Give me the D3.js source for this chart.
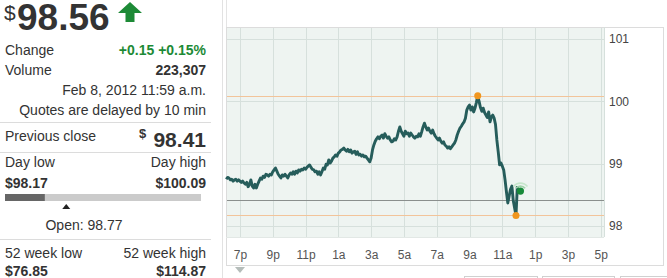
<!DOCTYPE html>
<html>
<head>
<meta charset="utf-8">
<script src="https://cdn.jsdelivr.net/npm/d3@7"></script>
<style>
  body { margin: 0; background: #fff; }
  svg { display: block; font-family: "Liberation Sans", Arial, sans-serif; }
</style>
</head>
<body>
<div id="content"></div>
<script>
// Quote summary
var lastPrice = 98.56;
var change = '+0.15 +0.15%';
var volume = '223,307';
var quoteTime = 'Feb 8, 2012 11:59 a.m.';
var prevClose = 98.41;
var dayLow = 98.17;
var dayHigh = 100.09;
var openPrice = 98.77;
var weekLow52 = 76.85;
var weekHigh52 = 114.87;

// Intraday prices, 5 minute steps starting 6:10 p.m. Feb 7
var startTime = '2012-02-07T18:10';
var prices = [].concat(
  [98.75, 98.78, 98.77, 98.74, 98.75, 98.72, 98.74, 98.75, 98.72, 98.74],               // 6p
  [98.72, 98.70, 98.72, 98.69, 98.67, 98.70, 98.63, 98.67, 98.74, 98.64, 98.61, 98.67], // 7p
  [98.61, 98.67, 98.72, 98.77, 98.75, 98.80, 98.78, 98.83, 98.82, 98.80, 98.83, 98.82], // 8p
  [98.87, 98.90, 98.93, 98.88, 98.83, 98.80, 98.77, 98.82, 98.80, 98.83, 98.80, 98.77], // 9p
  [98.82, 98.85, 98.83, 98.87, 98.83, 98.88, 98.85, 98.90, 98.88, 98.91, 98.90, 98.93], // 10p
  [98.91, 98.94, 98.96, 98.98, 98.94, 98.91, 98.90, 98.87, 98.88, 98.83, 98.87, 98.82], // 11p
  [98.87, 98.93, 98.91, 98.99, 98.98, 99.06, 99.01, 99.04, 99.09, 99.11, 99.14, 99.12], // 12a
  [99.17, 99.19, 99.22, 99.23, 99.25, 99.22, 99.20, 99.23, 99.19, 99.22, 99.17, 99.19], // 1a
  [99.20, 99.15, 99.19, 99.14, 99.15, 99.12, 99.14, 99.11, 99.12, 99.09, 99.06, 99.03], // 2a
  [99.09, 99.22, 99.30, 99.36, 99.40, 99.43, 99.40, 99.44, 99.46, 99.41, 99.48, 99.44], // 3a
  [99.41, 99.43, 99.38, 99.35, 99.36, 99.40, 99.38, 99.43, 99.52, 99.59, 99.52, 99.48], // 4a
  [99.44, 99.52, 99.48, 99.49, 99.44, 99.49, 99.46, 99.43, 99.41, 99.44, 99.43, 99.48], // 5a
  [99.44, 99.51, 99.59, 99.65, 99.59, 99.54, 99.57, 99.52, 99.49, 99.54, 99.48, 99.44], // 6a
  [99.41, 99.38, 99.41, 99.36, 99.33, 99.35, 99.30, 99.28, 99.25, 99.27, 99.24, 99.27], // 7a
  [99.30, 99.33, 99.38, 99.46, 99.52, 99.57, 99.60, 99.64, 99.67, 99.73, 99.86, 99.91], // 8a
  [99.94, 99.86, 99.91, 99.83, 99.89, 99.98, 100.09, 100.00, 99.90, 99.84, 99.89, 99.82], // 9a
  [99.78, 99.74, 99.83, 99.67, 99.75, 99.78, 99.73, 99.63, 99.38, 99.19, 98.98, 99.01], // 10a
  [98.96, 98.90, 98.74, 98.55, 98.37, 98.48, 98.59, 98.64, 98.41, 98.29, 98.17, 98.64]  // 11a
);
var lastTime = '2012-02-08T11:59';
var yTicks = [98, 99, 100, 101];

var W = 667, H = 278;
var svg = d3.select('#content').append('svg')
    .attr('width', W)
    .attr('height', H);

var parse = d3.timeParse('%Y-%m-%dT%H:%M');
var t0 = parse(startTime);
var data = prices.map(function(p, i) {
  return { t: d3.timeMinute.offset(t0, i * 5), v: p };
});

// ---------- left panel ----------
var L = svg.append('g');
var R = 206;
function txt(x, y, s, size, anchor, weight, color) {
  return L.append('text').attr('x', x).attr('y', y).text(s)
    .attr('font-size', size).attr('text-anchor', anchor || 'start')
    .attr('font-weight', weight || 'normal').attr('fill', color || '#333');
}
txt(4, 20, '$', 21);
txt(17, 30, d3.format('.2f')(lastPrice), 37, 'start', 'bold', '#333');
L.append('path')
  .attr('d', 'M130,2L142,13L134.5,13L134.5,22L125.5,22L125.5,13L118,13Z')
  .attr('fill', '#1d8a36');

txt(5, 55, 'Change', 14);
txt(R, 55, change, 14, 'end', 'bold', '#1d8a36');
txt(5, 75, 'Volume', 14);
txt(R, 75, volume, 14, 'end', 'bold');
txt(R, 95, quoteTime, 14, 'end');
txt(R, 115, 'Quotes are delayed by 10 min', 14, 'end');

function sep(y) {
  L.append('line').attr('x1', 0).attr('x2', 211).attr('y1', y + 0.5).attr('y2', y + 0.5)
    .attr('stroke', '#dcdcdc');
}
sep(122);
txt(5, 141, 'Previous close', 14);
txt(R, 147, d3.format('.2f')(prevClose), 21, 'end', 'bold');
txt(139, 138, '$', 13, 'start', 'bold');
sep(152);
txt(5, 167, 'Day low', 14);
txt(R, 167, 'Day high', 14, 'end');
txt(5, 188, '$' + d3.format('.2f')(dayLow), 14, 'start', 'bold');
txt(R, 188, '$' + d3.format('.2f')(dayHigh), 14, 'end', 'bold');

var rx = d3.scaleLinear().domain([dayLow, dayHigh]).range([5, 201]);
L.append('rect').attr('x', rx(dayLow)).attr('y', 194).attr('width', rx(dayHigh) - rx(dayLow))
  .attr('height', 7).attr('fill', '#cbcbcb');
L.append('rect').attr('x', rx(dayLow)).attr('y', 194).attr('width', rx(lastPrice) - rx(dayLow))
  .attr('height', 7).attr('fill', '#666');
var ox = rx(openPrice);
L.append('path').attr('d', 'M' + (ox - 4) + ',209L' + ox + ',204L' + (ox + 4) + ',209Z').attr('fill', '#222');
txt(84, 230, 'Open: ' + openPrice, 14, 'middle');
sep(239);
txt(5, 258, '52 week low', 14);
txt(R, 258, '52 week high', 14, 'end');
txt(5, 276, '$' + d3.format('.2f')(weekLow52), 14, 'start', 'bold');
txt(R, 276, '$' + d3.format('.2f')(weekHigh52), 14, 'end', 'bold');

svg.append('line').attr('x1', 222.5).attr('x2', 222.5).attr('y1', 0).attr('y2', H)
  .attr('stroke', '#e2e2e2');

// ---------- chart panel ----------
var box = { left: 226, right: 663, top: 27, bottom: 265 };
var plot = { left: 226, right: 604, top: 27, bottom: 237 };

svg.append('line').attr('x1', 226.5).attr('x2', 226.5).attr('y1', 0).attr('y2', box.top)
  .attr('stroke', '#e4e4e4');
svg.append('rect').attr('x', box.left + 0.5).attr('y', box.top + 0.5)
  .attr('width', box.right - box.left).attr('height', box.bottom - box.top)
  .attr('fill', '#fff').attr('stroke', '#dcdcdc');
svg.append('rect').attr('x', plot.left + 1).attr('y', plot.top + 1)
  .attr('width', plot.right - plot.left - 1).attr('height', plot.bottom - plot.top - 1)
  .attr('fill', '#eef4f1');

var x = d3.scaleTime()
  .domain([parse('2012-02-07T18:09'), parse('2012-02-08T17:12')])
  .range([plot.left, plot.right]);
var y = d3.scaleLinear().domain([98, 101]).range([226, 39]);
var xTicks = d3.timeHour.range(parse('2012-02-07T19:00'), parse('2012-02-08T18:00'), 2);

var grid = svg.append('g').attr('stroke', '#d6e0dc').attr('stroke-width', 1);
grid.selectAll('.vx').data(xTicks).enter().append('line')
  .attr('x1', function(d) { return Math.round(x(d)) + 0.5; })
  .attr('x2', function(d) { return Math.round(x(d)) + 0.5; })
  .attr('y1', plot.top + 1).attr('y2', plot.bottom);
grid.selectAll('.hy').data(yTicks).enter().append('line')
  .attr('x1', plot.left + 1).attr('x2', plot.right)
  .attr('y1', function(d) { return Math.round(y(d)) + 0.5; })
  .attr('y2', function(d) { return Math.round(y(d)) + 0.5; });
svg.append('line').attr('x1', plot.right + 0.5).attr('x2', plot.right + 0.5)
  .attr('y1', plot.top).attr('y2', plot.bottom).attr('stroke', '#d6e0dc');
svg.append('line').attr('x1', plot.left).attr('x2', plot.right)
  .attr('y1', plot.bottom + 0.5).attr('y2', plot.bottom + 0.5).attr('stroke', '#e2e8e5');

// day high / low and previous close
function hline(v, color) {
  svg.append('line').attr('x1', plot.left + 1).attr('x2', plot.right)
    .attr('y1', Math.round(y(v)) + 0.5).attr('y2', Math.round(y(v)) + 0.5)
    .attr('stroke', color);
}
hline(dayHigh, '#f2c49a');
hline(dayLow, '#f2c49a');
hline(prevClose, '#8a8f8d');

var line = d3.line()
  .x(function(d) { return x(d.t); })
  .y(function(d) { return y(d.v); });
svg.append('path').datum(data)
  .attr('d', line)
  .attr('fill', 'none')
  .attr('stroke', '#265d5b')
  .attr('stroke-width', 2.9)
  .attr('stroke-linejoin', 'round');

// high and low markers
var hi = data.reduce(function(a, b) { return b.v > a.v ? b : a; });
var lo = data.reduce(function(a, b) { return b.v < a.v ? b : a; });
svg.selectAll('.hl').data([hi, lo]).enter().append('circle')
  .attr('cx', function(d) { return x(d.t); })
  .attr('cy', function(d) { return y(d.v); })
  .attr('r', 3.5)
  .attr('fill', '#f0961e');

// last trade
var lx = x(parse(lastTime)) + 2, ly = y(lastPrice);
svg.append('circle').attr('cx', lx).attr('cy', ly).attr('r', 3.6).attr('fill', '#178a3a');
[6, 9].forEach(function(r, i) {
  var arc = d3.arc().innerRadius(r - 0.8).outerRadius(r + 0.8)
    .startAngle(-0.9).endAngle(0.9);
  svg.append('path').attr('d', arc()).attr('transform', 'translate(' + lx + ',' + (ly + 1) + ')')
    .attr('fill', i ? '#c6e6cc' : '#9fd3a9');
});

// axes
var fmtHour = function(d) {
  var h = d.getHours();
  return (h % 12 || 12) + (h < 12 ? 'a' : 'p');
};
var xAxis = svg.append('g')
  .attr('transform', 'translate(0,' + plot.bottom + ')')
  .call(d3.axisBottom(x).tickValues(xTicks).tickFormat(fmtHour).tickSize(0).tickPadding(13));
xAxis.select('.domain').remove();
xAxis.selectAll('text').attr('font-size', 12).attr('fill', '#555')
  .attr('font-family', '"Liberation Sans", Arial, sans-serif');

var yAxis = svg.append('g')
  .attr('transform', 'translate(' + (plot.right + 4) + ',0)')
  .call(d3.axisRight(y).tickValues(yTicks).tickFormat(d3.format('d')).tickSize(0).tickPadding(1));
yAxis.select('.domain').remove();
yAxis.selectAll('text').attr('font-size', 12).attr('fill', '#444')
  .attr('font-family', '"Liberation Sans", Arial, sans-serif');

// bits below the chart
svg.append('path').attr('d', 'M235,267L245,267L240,273Z').attr('fill', '#b5bdba');
[[464, 537], [542, 614], [620, 670]].forEach(function(b) {
  svg.append('rect').attr('x', b[0] + 0.5).attr('y', 276.5).attr('width', b[1] - b[0])
    .attr('height', 10).attr('fill', '#fff').attr('stroke', '#d0d0d0');
});
</script>
</body>
</html>
